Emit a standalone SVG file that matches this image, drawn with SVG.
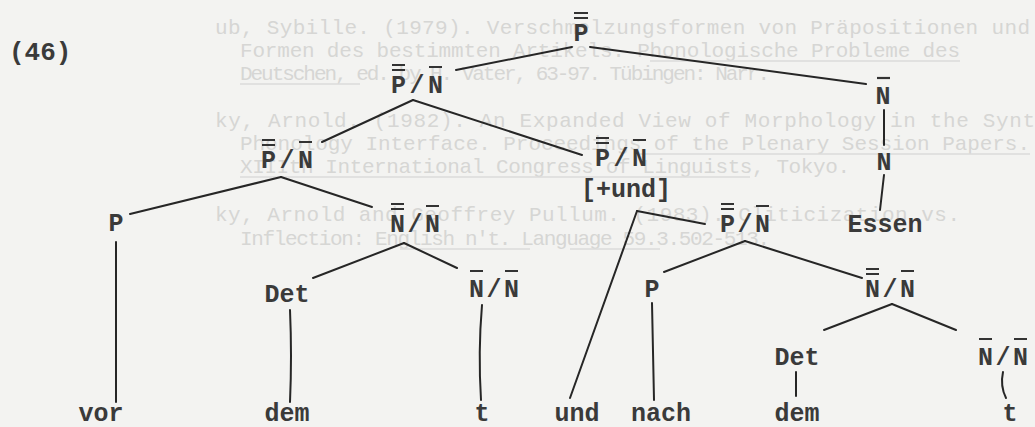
<svg xmlns="http://www.w3.org/2000/svg" width="1035" height="427" viewBox="0 0 1035 427">
<style>
.bg{fill:#f3f3f1}
.ghost{font-family:"Liberation Mono","DejaVu Sans Mono",monospace;font-size:21px;fill:#d6d6d4}
.gu{stroke:#dcdcda;stroke-width:1.5;fill:none}
.lbl{font-family:"Liberation Mono","DejaVu Sans Mono",monospace;font-size:25px;font-weight:bold;fill:#3a3a3a;text-anchor:middle}
.num{font-family:"Liberation Mono","DejaVu Sans Mono",monospace;font-size:26px;font-weight:bold;fill:#3a3a3a}
.bar{stroke:#333;stroke-width:2.2;fill:none}
.edge{stroke:#262626;stroke-width:2;fill:none;stroke-linecap:round}
</style>
<rect class="bg" x="0" y="0" width="1035" height="427"/>
<g id="bleed">
<text class="ghost" x="215" y="34" textLength="815" lengthAdjust="spacing">ub, Sybille.  (1979).  Verschmelzungsformen von Präpositionen und</text>
<text class="ghost" x="240" y="57" textLength="720" lengthAdjust="spacing">Formen des bestimmten Artikels.  Phonologische Probleme des</text>
<text class="ghost" x="240" y="80" textLength="530" lengthAdjust="spacing">Deutschen, ed. by H. Vater, 63-97.  Tübingen: Narr.</text>
<text class="ghost" x="215" y="127" textLength="820" lengthAdjust="spacing">ky, Arnold.  (1982).  An Expanded View of Morphology in the Synt</text>
<text class="ghost" x="240" y="150" textLength="790" lengthAdjust="spacing">Phonology Interface.  Proceedings of the Plenary Session Papers.</text>
<text class="ghost" x="240" y="173" textLength="610" lengthAdjust="spacing">XIIIth International Congress of Linguists, Tokyo.</text>
<text class="ghost" x="215" y="221" textLength="745" lengthAdjust="spacing">ky, Arnold and Geoffrey Pullum.  (1983).  Cliticization vs.</text>
<text class="ghost" x="240" y="245" textLength="530" lengthAdjust="spacing">Inflection: English n't.  Language 59.3.502-513.</text>
<path class="gu" d="M650 61H960M240 84H360M640 154H1030M240 177H750M400 249H530M570 249H660"/>
</g>
<g id="connectors">
<path class="edge" d="M572 47L456 70"/>
<path class="edge" d="M590 47L866 84"/>
<path class="edge" d="M884 110L884 145"/>
<path class="edge" d="M884 175L880 210"/>
<path class="edge" d="M413 100L322 142"/>
<path class="edge" d="M413 100L582 155"/>
<path class="edge" d="M281 177L130 214"/>
<path class="edge" d="M281 177L372 207"/>
<path class="edge" d="M116 242L116 402"/>
<path class="edge" d="M404 243L313 278"/>
<path class="edge" d="M404 243L457 268"/>
<path class="edge" d="M290 310Q292 356 290 402"/>
<path class="edge" d="M482 305Q478 352 481 400"/>
<path class="edge" d="M637 211L570 398"/>
<path class="edge" d="M637 211L705 224"/>
<path class="edge" d="M745 241L664 272"/>
<path class="edge" d="M745 241L862 278"/>
<path class="edge" d="M652 303L654 400"/>
<path class="edge" d="M892 304L824 330"/>
<path class="edge" d="M892 304L956 330"/>
<path class="edge" d="M796 372L796 396"/>
<path class="edge" d="M1003 372Q1000 386 1006 398"/>
</g>
<g id="label46"><text class="num" x="9" y="60">(46)</text></g>
<g id="n-root">
<text class="lbl" x="581" y="41">P</text>
<path class="bar" d="M574 13H588M574 18H588"/>
</g>
<g id="n-pn2">
<text class="lbl" x="417" y="93" textLength="52" lengthAdjust="spacing">P/N</text>
<path class="bar" d="M392 65H405M392 70H405M429 67H442"/>
</g>
<g id="n-nbar">
<text class="lbl" x="883" y="104">N</text>
<path class="bar" d="M877 78H890"/>
</g>
<g id="n-n">
<text class="lbl" x="884" y="170">N</text>
</g>
<g id="n-essen">
<text class="lbl" x="885" y="232">Essen</text>
</g>
<g id="n-pn3">
<text class="lbl" x="287" y="168" textLength="52" lengthAdjust="spacing">P/N</text>
<path class="bar" d="M262 140H275M262 145H275M299 142H312"/>
</g>
<g id="n-pnund">
<text class="lbl" x="621" y="166" textLength="52" lengthAdjust="spacing">P/N</text>
<text class="lbl" x="626" y="197">[+und]</text>
<path class="bar" d="M596 138H609M596 143H609M633 140H646"/>
</g>
<g id="n-p1">
<text class="lbl" x="116" y="231">P</text>
</g>
<g id="n-nn1">
<text class="lbl" x="415" y="232" textLength="50" lengthAdjust="spacing">N/N</text>
<path class="bar" d="M391 204H404M391 209H404M426 206H439"/>
</g>
<g id="n-pn4">
<text class="lbl" x="745" y="232" textLength="50" lengthAdjust="spacing">P/N</text>
<path class="bar" d="M721 204H734M721 209H734M756 206H769"/>
</g>
<g id="n-det1">
<text class="lbl" x="287" y="302">Det</text>
</g>
<g id="n-nn2">
<text class="lbl" x="494" y="297" textLength="50" lengthAdjust="spacing">N/N</text>
<path class="bar" d="M470 271H483M505 271H518"/>
</g>
<g id="n-p2">
<text class="lbl" x="652" y="297">P</text>
</g>
<g id="n-nn3">
<text class="lbl" x="890" y="297" textLength="50" lengthAdjust="spacing">N/N</text>
<path class="bar" d="M866 269H879M866 274H879M901 271H914"/>
</g>
<g id="n-det2">
<text class="lbl" x="797" y="365">Det</text>
</g>
<g id="n-nn4">
<text class="lbl" x="1003" y="365" textLength="50" lengthAdjust="spacing">N/N</text>
<path class="bar" d="M979 339H992M1014 339H1027"/>
</g>
<g id="leaves">
<text class="lbl" x="101" y="421">vor</text>
<text class="lbl" x="287" y="421">dem</text>
<text class="lbl" x="482" y="421">t</text>
<text class="lbl" x="577" y="421">und</text>
<text class="lbl" x="661" y="421">nach</text>
<text class="lbl" x="797" y="421">dem</text>
<text class="lbl" x="1010" y="421">t</text>
</g>
</svg>
